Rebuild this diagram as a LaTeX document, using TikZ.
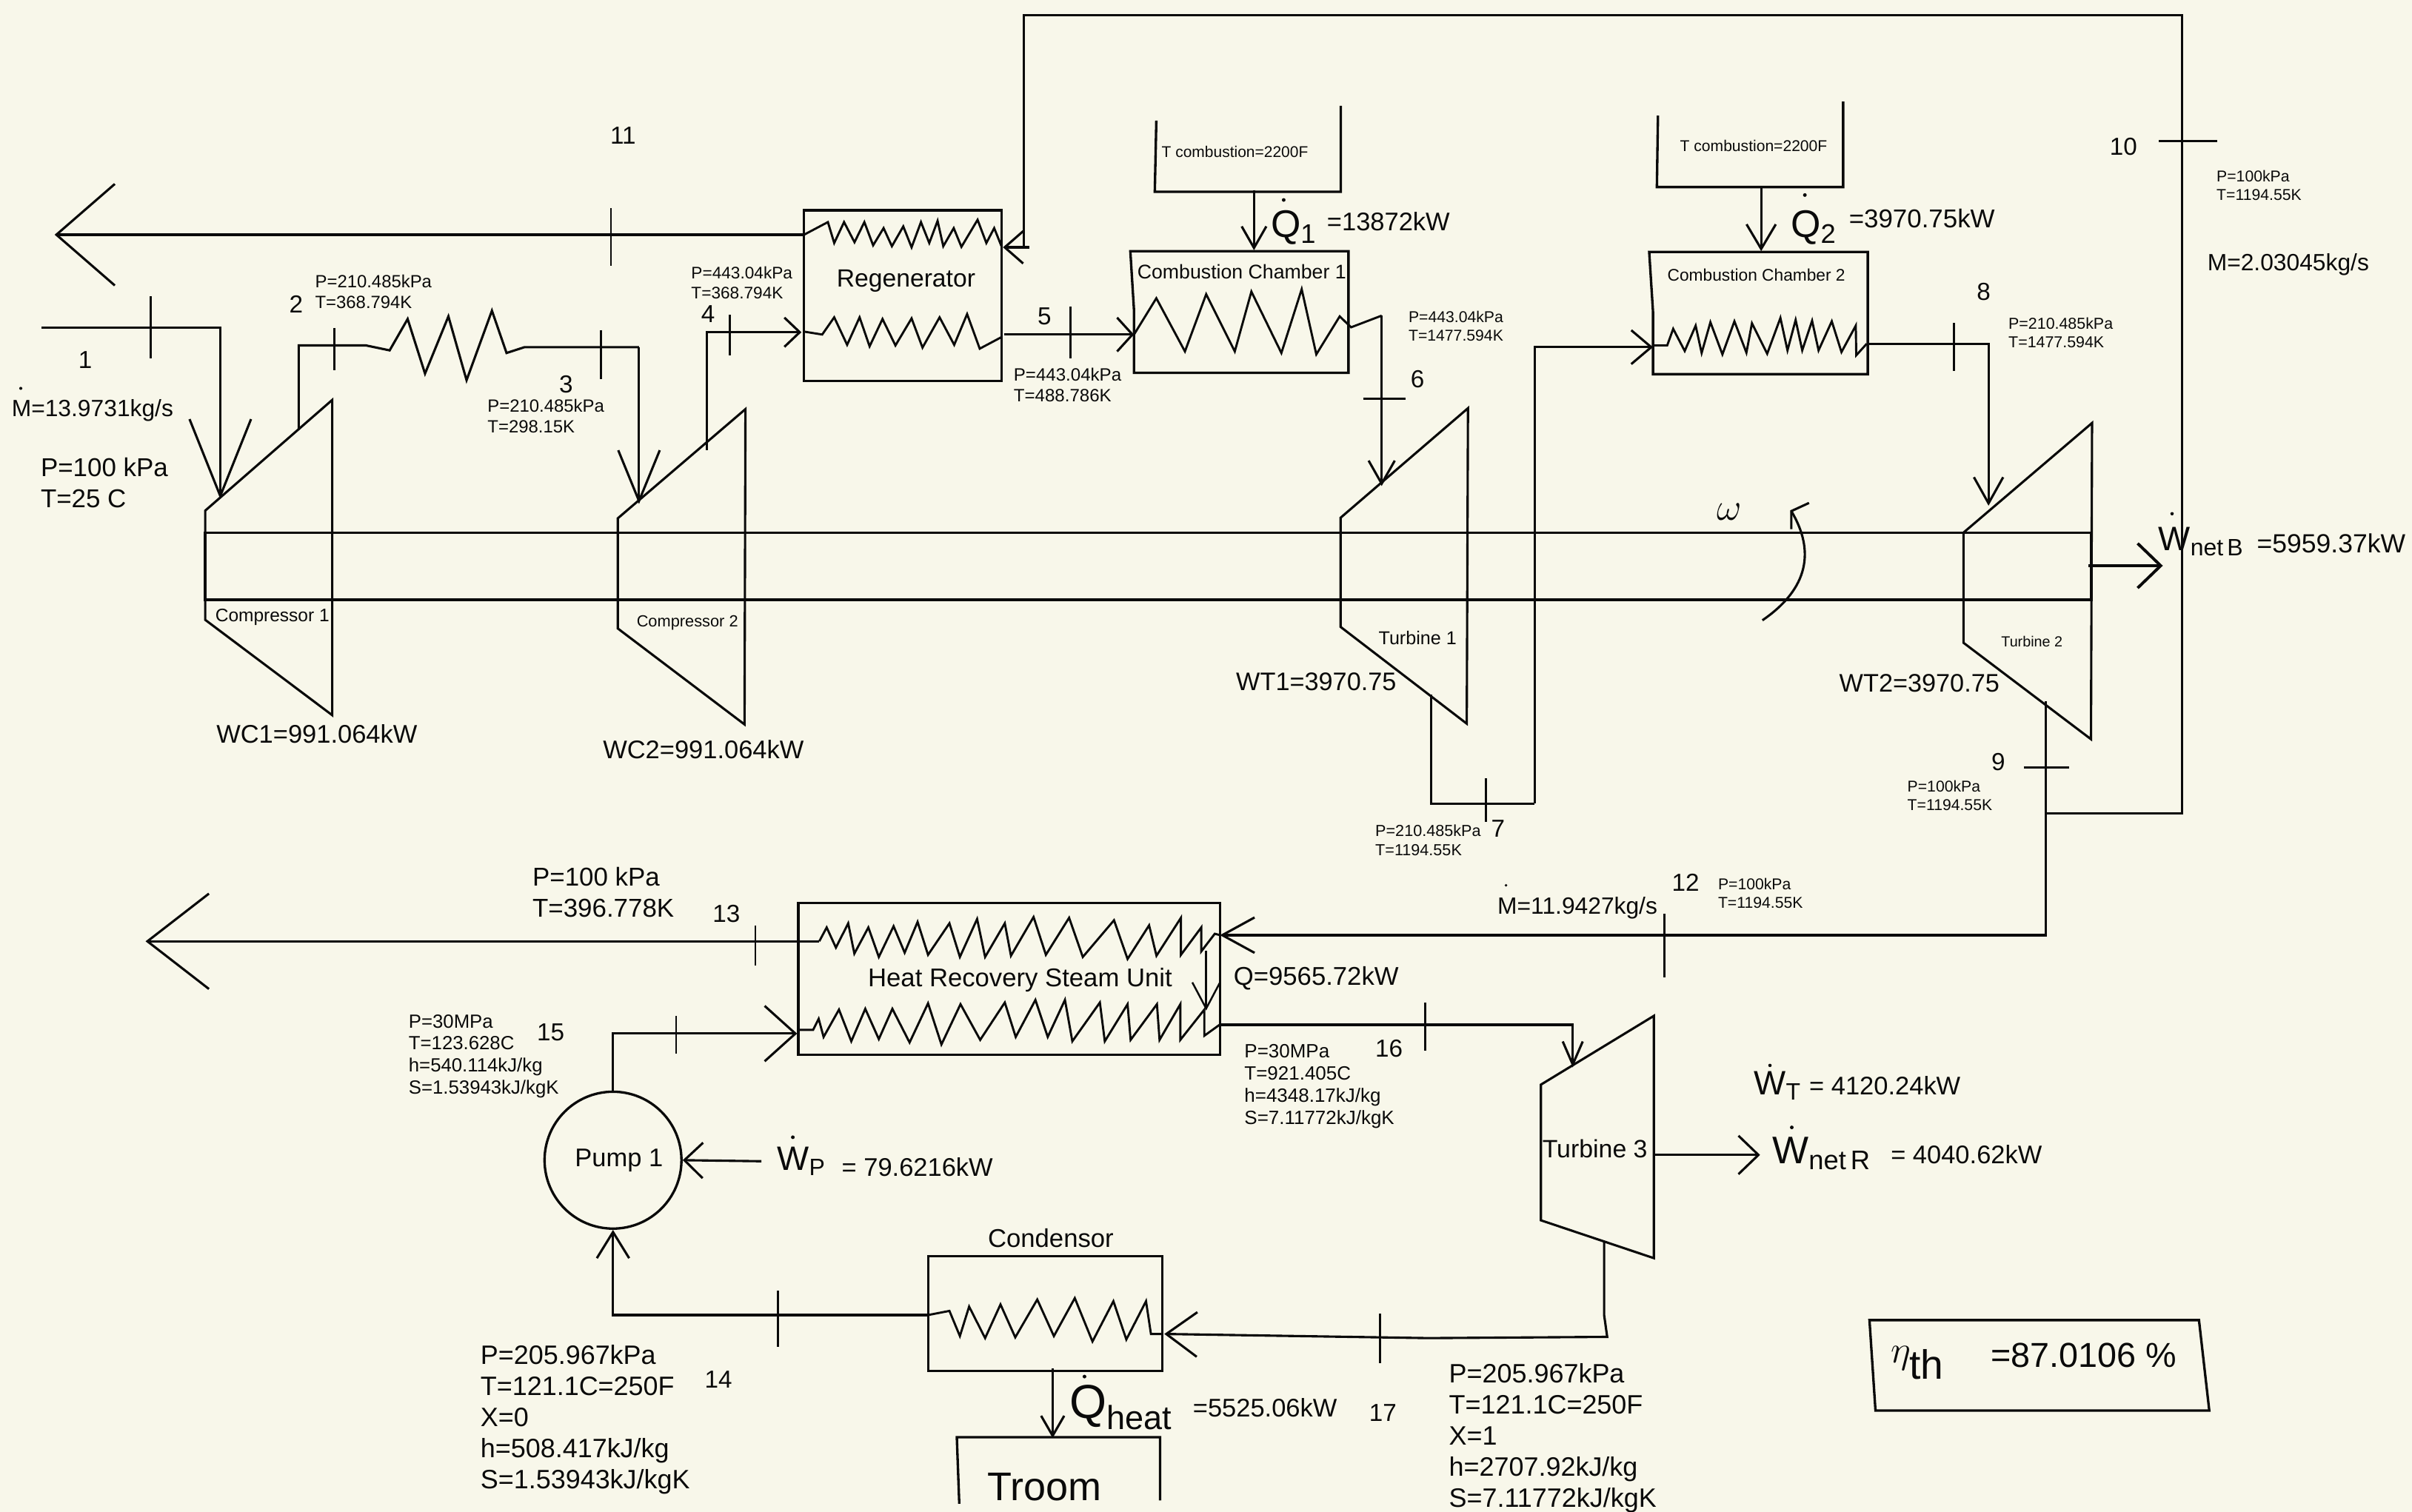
\documentclass[tikz,border=0pt]{standalone}
\usepackage{amsmath}
\usepackage{fontspec}
\setmainfont{Liberation Sans}
\setsansfont{Liberation Sans}
\usetikzlibrary{arrows.meta}
\definecolor{paper}{HTML}{F8F7EA}
\definecolor{ink}{HTML}{0A0A0A}
\tikzset{
  pipe/.style={ink, line width=1.5pt, line join=miter},
  unit/.style={ink, line width=1.6pt, line join=miter},
  coil/.style={ink, line width=1.4pt, line join=miter},
  tick/.style={ink, line width=1.3pt},
  head/.style 2 args={-{Straight Barb[length=#1, width=#2]}},
  lblbig/.style={text=ink, anchor=west, inner sep=0pt, align=left, font=\fontsize{17.1}{20.2}\selectfont},
  lblmid/.style={text=ink, anchor=west, inner sep=0pt, align=left, font=\fontsize{15.3}{18}\selectfont},
  lblfour/.style={text=ink, anchor=west, inner sep=0pt, align=left, font=\fontsize{12.4}{14.4}\selectfont},
  lblsmall/.style={text=ink, anchor=west, inner sep=0pt, align=left, font=\fontsize{11.5}{13.6}\selectfont},
  lbltiny/.style={text=ink, anchor=west, inner sep=0pt, align=left, font=\fontsize{10.2}{12}\selectfont},
  num/.style={text=ink, inner sep=0pt, font=\fontsize{16}{18}\selectfont},
  hand/.style={text=ink, inner sep=0pt, font=\fontsize{25}{28}\selectfont},
}

\begin{document}
\begin{tikzpicture}[x=1pt, y=-1pt]

% Background
\fill[paper] (0,0) rectangle (1568,983.06);
\useasboundingbox (0,0) rectangle (1568,983.06);

% ============================================================
% Shaft and compressors
% ============================================================
\draw[unit] (133.4,346.3) rectangle (1359.5,390);
\draw[pipe] (133.4,332) -- (216,260) -- (216,465) -- (133.4,403) -- cycle;
\draw[pipe] (401.6,337) -- (484.6,266) -- (484,471) -- (401.6,408.6) -- cycle;
\node[lblsmall, font=\fontsize{11.8}{14}\selectfont] (compA) at (139.8,401.2) {Compressor 1};
\node[lbltiny, font=\fontsize{10.5}{12}\selectfont] (compB) at (413.7,404.8) {Compressor 2};
\node[lblbig, font=\fontsize{16.6}{18}\selectfont] (wcA) at (140.5,477.4) {WC1=991.064kW};
\node[lblbig, font=\fontsize{16.6}{18}\selectfont] (wcB) at (391.8,487.5) {WC2=991.064kW};

% Inlet, state 1
\coordinate (sAin) at (27,213);
\coordinate (sAend) at (143.2,324.5);
\draw[pipe, head={50pt}{40pt}] (sAin) -| (sAend);
\draw[tick] (98,192.8) -- (98,233.2);
\node[num] (nA) at (55.4,234) {1};
\fill[ink] (13.5,252.5) circle (1pt);
\node[lblmid] (flowA) at (7.4,267) {M=13.9731kg/s};
\node[lblbig, font=\fontsize{16.8}{20}\selectfont] (inletA) at (26.3,314) {P=100 kPa\\T=25 C};

% Intercooler, states 2 and 3
\coordinate (sBout) at (194.2,279.4);
\coordinate (sCend) at (415.4,327.7);
\draw[pipe, line join=miter] (sBout) |- (238,224.6) -- (253.3,227.8) -- (265,207.4) -- (276.3,242.9)
  -- (291.5,205.7) -- (303.3,247.2) -- (319.8,202) -- (329.3,229.5) -- (341,225.7) -- (415.4,225.7);
\draw[pipe, head={33pt}{27pt}] (415.4,225.7) -- (sCend);
\draw[tick] (217.2,213.2) -- (217.2,240.7);
\draw[tick] (390.7,214.5) -- (390.7,246.5);
\node[num] (nB) at (192.5,197.7) {2};
\node[num] (nC) at (368,250) {3};
\node[lblsmall] (lblB) at (204.7,189.5) {P=210.485kPa\\T=368.794K};
\node[lblsmall] (lblC) at (316.8,270.5) {P=210.485kPa\\T=298.15K};

% Regenerator
\node[unit, draw, inner sep=0pt, minimum width=128.3pt, minimum height=111.1pt] (regen) at (586.85,192.25) {};
\node[lblbig, font=\fontsize{16.2}{18}\selectfont, anchor=center] (regenlbl) at (589,182.6) {Regenerator};
\draw[coil] plot coordinates {(522.7,152.6) (538.2,144.4) (542.3,158) (548.7,144.4) (555.5,157.5) (561.9,144.4)
  (567.6,159.5) (574.4,148.3) (579.8,160.1) (587.2,147.2) (592.6,160.8) (598.7,144.4) (604.1,158) (609.5,143.6)
  (613.2,160.1) (620,148.3) (625,160.5) (635.5,142.9) (641.2,158) (646.3,148.3) (651,160)};
\draw[coil] plot coordinates {(522.7,215.6) (534.5,217.5) (542.3,206.3) (550.7,224.2) (558.8,206.3) (565.3,225.2)
  (573.7,207.4) (582.1,224.6) (592.6,207) (599.7,226) (610.8,206.3) (620.3,224.2) (628.7,204.2) (636.9,226.7) (651,219.2)};

% State 4 into the regenerator
\coordinate (sDout) at (459.6,292.7);
\coordinate (sDend) at (521,216);
\draw[pipe, head={10pt}{19pt}] (sDout) |- (sDend);
\draw[tick] (474.5,204.6) -- (474.5,231);
\node[num] (nD) at (460.3,204) {4};
\node[lblsmall, font=\fontsize{10.9}{13.3}\selectfont] (lblD) at (449.2,183.8) {P=443.04kPa\\T=368.794K};

% Exhaust, state 11
\coordinate (sKout) at (522.8,152.6);
\coordinate (sKend) at (35.5,152.6);
\draw[pipe, head={38pt}{66pt}] (sKout) -- (sKend);
\draw[tick] (397.2,135.4) -- (397.2,172.6);
\node[num] (nK) at (405,88) {11};

% State 5 into chamber 1
\coordinate (sEout) at (652.7,217.5);
\coordinate (sEend) at (737.2,217.5);
\draw[pipe, head={10pt}{22pt}] (sEout) -- (sEend);
\draw[tick] (696,199.2) -- (696,232.8);
\node[num] (nE) at (679,205.7) {5};
\node[lblsmall, font=\fontsize{11.6}{13.9}\selectfont] (lblE) at (658.8,250.3) {P=443.04kPa\\T=488.786K};

% ============================================================
% Combustion chambers and turbines
% ============================================================
\draw[unit] (737.2,202) -- (734.8,163.3) -- (876.6,163.3) -- (876.6,242.4) -- (737.2,242.4) -- cycle;
\node[lblmid, font=\fontsize{12.85}{15}\selectfont] (ccAlbl) at (739.2,176.7) {Combustion Chamber 1};
\draw[coil] plot coordinates {(737.2,217.5) (751.7,193.9) (770.3,228.5) (784.1,191.3) (802.7,228.5) (813.5,189.6)
  (833,229.5) (846.2,188) (855.7,230.4) (870.9,205.7) (878.3,212.8) (898.2,205.2)};

% Heat source 1
\draw[unit] (751.7,78.4) -- (750.7,124.7) -- (871.6,124.7) -- (871.6,68.8);
\node[lbltiny, font=\fontsize{10.1}{12}\selectfont] (tcA) at (755,98.9) {T combustion=2200F};
\coordinate (qAa) at (815.2,123.6);
\coordinate (qAb) at (815.2,162.7);
\draw[pipe, head={14pt}{16pt}] (qAa) -- (qAb);
\fill[ink] (834.5,130) circle (1.2pt);
\node[hand] (qA) at (841,148) {$\mathsf{Q}_{\mathsf{1}}$};
\node[lblbig, font=\fontsize{16.6}{18}\selectfont] (qAval) at (862.5,144) {=13872kW};

% State 6 into turbine 1
\coordinate (sFa) at (898.2,205.2);
\coordinate (sFend) at (898.2,316);
\draw[pipe, head={15pt}{17pt}] (sFa) -- (sFend);
\draw[tick, line width=1.6pt] (886.1,259.4) -- (913.8,259.4);
\node[num] (nF) at (921.5,246.5) {6};
\node[lbltiny] (lblF) at (915.5,212.2) {P=443.04kPa\\T=1477.594K};

\draw[pipe] (871.5,336.6) -- (954.3,265.4) -- (953.5,470.5) -- (871.5,407.6) -- cycle;
\node[lblsmall, font=\fontsize{12.1}{14}\selectfont] (turbA) at (896,414.7) {Turbine 1};
\node[lblbig, font=\fontsize{16.5}{18}\selectfont] (wtA) at (803.4,443) {WT1=3970.75};

% State 7 reheat line
\coordinate (sGout) at (930.5,451.6);
\coordinate (sGend) at (1074.6,225.7);
\draw[pipe] (sGout) |- (997.7,522.5);
\draw[pipe, head={13pt}{22pt}] (997.7,522.5) |- (sGend);
\draw[tick] (966.1,506) -- (966.1,534.4);
\node[num] (nG) at (973.8,538.7) {7};
\node[lbltiny, font=\fontsize{10.4}{12.4}\selectfont] (lblG) at (893.9,546.4) {P=210.485kPa\\T=1194.55K};

% Chamber 2
\draw[unit] (1074.6,203) -- (1072.1,163.8) -- (1214.2,163.8) -- (1214.2,243.3) -- (1074.6,243.3) -- cycle;
\node[lbltiny, font=\fontsize{10.94}{13}\selectfont] (ccBlbl) at (1083.8,178.8) {Combustion Chamber 2};
\draw[coil] plot coordinates {(1074.6,224.6) (1083.8,224.6) (1087.7,213.8) (1095.2,228.2) (1102.3,211.7) (1106.2,229.5)
  (1111.9,209.5) (1119.7,230.4) (1127.5,208.9) (1135.3,229.3) (1138.9,210.2) (1148.8,230) (1157.4,206.7) (1162,227.8)
  (1167.3,208) (1171.6,227.8) (1178,208.5) (1182.2,227.8) (1190.8,208.9) (1197.1,228.9) (1206.4,211.7) (1206.7,231) (1213.5,223.5)};

% Heat source 2
\draw[unit] (1077.8,75.2) -- (1077.1,121.6) -- (1198.2,121.6) -- (1198.2,66);
\node[lbltiny, font=\fontsize{10.15}{12}\selectfont] (tcB) at (1092,94.6) {T combustion=2200F};
\coordinate (qBa) at (1144.9,121.6);
\coordinate (qBb) at (1144.9,163.3);
\draw[pipe, head={16pt}{19pt}] (qBa) -- (qBb);
\fill[ink] (1173.3,126.8) circle (1.2pt);
\node[hand] (qB) at (1179,148) {$\mathsf{Q}_{\mathsf{2}}$};
\node[lblbig, font=\fontsize{16.8}{18}\selectfont] (qBval) at (1201.8,141.8) {=3970.75kW};

% State 8 into turbine 2
\coordinate (sHout) at (1214.2,223.7);
\coordinate (sHend) at (1292.7,328.8);
\draw[pipe, head={17pt}{19pt}] (sHout) -| (sHend);
\draw[tick] (1270.3,210) -- (1270.3,241.1);
\node[num] (nH) at (1289.5,189.6) {8};
\node[lbltiny, font=\fontsize{10.3}{12}\selectfont] (lblH) at (1305.5,216.5) {P=210.485kPa\\T=1477.594K};

\draw[pipe] (1276.4,346.3) -- (1360,275) -- (1359.3,480.6) -- (1276.4,417.9) -- cycle;
\node[lbltiny, font=\fontsize{9.5}{11}\selectfont] (turbB) at (1300.8,417.2) {Turbine 2};
\node[lblbig, font=\fontsize{16.5}{18}\selectfont] (wtB) at (1195.5,444) {WT2=3970.75};

% Shaft rotation and net work
\node[hand, font=\fontsize{27}{28}\selectfont] (omega) at (1124,333) {$\omega$};
\coordinate (rotA) at (1145.7,403.3);
\coordinate (rotB) at (1164.5,332.3);
\draw[pipe] (rotA) .. controls (1168,388) and (1184,365) .. (rotB);
\draw[pipe] (1164.5,344) -- (rotB) -- (1176,327);
\coordinate (shaftOut) at (1357.8,367.8);
\coordinate (netBtip) at (1406,367.8);
\draw[pipe, line width=1.9pt, head={15pt}{29pt}] (shaftOut) -- (netBtip);
\fill[ink] (1412,334) circle (1.1pt);
\node[hand, font=\fontsize{22}{26}\selectfont, anchor=west] (netB) at (1403,352) {$\mathsf{W}_{\mathsf{net\,B}}$};
\node[lblbig] (netBval) at (1467,353.2) {=5959.37kW};

% ============================================================
% Split after turbine 2: states 9, 10, 12
% ============================================================
\coordinate (sIout) at (1329.8,456);
\coordinate (sIsplit) at (1329.8,529);
\coordinate (sLend) at (793,608);
\coordinate (sJa) at (1418.5,529);
\coordinate (sJb) at (1418.5,10);
\coordinate (sJc) at (665.6,10);
\coordinate (sJend) at (652,160.8);
\draw[pipe] (sIout) -- (sIsplit);
\draw[pipe, head={21pt}{23pt}] (sIsplit) |- (sLend);
\draw[pipe] (sIsplit) -- (sJa) -- (sJb) -- (sJc) -- (665.6,160.8);
\draw[pipe, head={12pt}{21pt}] (669,160.8) -- (sJend);
\draw[tick, line width=1.7pt] (1315.6,499) -- (1345,499);
\draw[tick, line width=1.7pt] (1403.5,91.6) -- (1441.5,91.6);
\draw[tick, line width=1.5pt] (1082,594) -- (1082,635.4);
\node[num] (nI) at (1299,495.2) {9};
\node[num] (nJ) at (1380.4,95.2) {10};
\node[num] (nL) at (1095.8,573.7) {12};
\node[lbltiny] (lblI) at (1239.8,517.2) {P=100kPa\\T=1194.55K};
\node[lbltiny] (lblJ) at (1440.8,120.4) {P=100kPa\\T=1194.55K};
\node[lbltiny] (lblL) at (1116.7,580.9) {P=100kPa\\T=1194.55K};
\node[lblmid] (flowJ) at (1434.8,172) {M=2.03045kg/s};
\fill[ink] (979,575.6) circle (0.9pt);
\node[lblmid] (flowL) at (973.3,590.2) {M=11.9427kg/s};

% ============================================================
% Steam cycle
% ============================================================
\node[unit, draw, inner sep=0pt, minimum width=274.2pt, minimum height=98.7pt] (hrsg) at (656.1,636.35) {};
\node[lblbig, font=\fontsize{16.7}{18}\selectfont] (hrsglbl) at (564.1,637) {Heat Recovery Steam Unit};
\draw[coil] plot coordinates {(532.6,612) (537.4,603) (543.4,616.1) (551.4,600.3) (555.4,620) (564.5,603) (571.3,622.2)
  (580.9,602.2) (588.1,619.4) (596.5,599.4) (603.3,620.8) (617.2,600.3) (624,622.2) (635.2,597.5) (640.4,622.2)
  (653.2,600.3) (657.2,621.4) (671.9,596.2) (679.9,620.8) (695,596.7) (703.9,622.2) (724.2,598.3) (733,623.5)
  (747,601.6) (751.8,621.4) (767.7,596.7) (767.7,620.8) (780.9,603) (780.9,618.6) (789.7,607.1) (793.2,608)};
\draw[coil] plot coordinates {(519,669.6) (528.6,669.6) (532.2,662.4) (535.4,674.2) (545.4,656.4) (553.4,677) (562.5,655.9)
  (571.3,675.6) (580.1,655.9) (591.3,677.8) (603.3,652.3) (612,679.1) (624.4,652.9) (637.2,676.1) (653.2,651.8)
  (660.3,674.2) (673.1,650.1) (681.1,674.2) (692.3,650.1) (697.1,677) (715,651.8) (718.2,677) (733,652.9) (735,676.1)
  (752.1,652.9) (753.8,676.1) (767.3,652.9) (767.3,676.1) (782.9,656.4) (782.9,673.4) (793.2,666)};
\coordinate (qHa) at (784.1,618);
\coordinate (qHb) at (784.1,657);
\draw[pipe, line width=1.2pt, head={17pt}{18pt}] (qHa) -- (qHb);
\node[lblbig, font=\fontsize{16.7}{18}\selectfont] (qHval) at (801.8,635.9) {Q=9565.72kW};

% Exhaust, state 13
\coordinate (sMout) at (532.6,612);
\coordinate (sMend) at (94.6,612);
\draw[pipe, head={40pt}{62pt}] (sMout) -- (sMend);
\draw[tick] (491,601.6) -- (491,627.7);
\node[num] (nM) at (472.2,594.2) {13};
\node[lblbig, font=\fontsize{16.8}{20.2}\selectfont] (lblM) at (346,580) {P=100 kPa\\T=396.778K};

% State 16 into turbine 3
\coordinate (sPout) at (793.7,666.3);
\coordinate (sPend) at (1022.4,694);
\draw[pipe, head={15pt}{13pt}] (sPout) -| (sPend);
\draw[tick, line width=1.6pt] (926.6,651.8) -- (926.6,683);
\node[num] (nP) at (903,681.6) {16};
\node[lblfour, font=\fontsize{12.5}{14.4}\selectfont] (lblP) at (808.8,706.3) {P=30MPa\\T=921.405C\\h=4348.17kJ/kg\\S=7.11772kJ/kgK};

\draw[pipe] (1001.7,705.2) -- (1075.1,660.5) -- (1075.1,818) -- (1001.7,793.4) -- cycle;
\node[lblbig, font=\fontsize{16.3}{18}\selectfont] (turbC) at (1002.5,746.8) {Turbine 3};
\coordinate (turbCout) at (1075.1,750.9);
\coordinate (netRtip) at (1144.2,750.9);
\draw[pipe, head={13pt}{25pt}] (turbCout) -- (netRtip);
\fill[ink] (1150.6,692.7) circle (1.1pt);
\node[hand, font=\fontsize{22}{26}\selectfont, anchor=west] (wT) at (1140,706) {$\mathsf{W}_{\mathsf{T}}$};
\node[lblbig, font=\fontsize{16.6}{18}\selectfont] (wTval) at (1176,706) {= 4120.24kW};
\fill[ink] (1164.8,733) circle (1.2pt);
\node[hand, font=\fontsize{25}{26}\selectfont, anchor=west] (netR) at (1152,750) {$\mathsf{W}_{\mathsf{net\,R}}$};
\node[lblbig, font=\fontsize{16.6}{18}\selectfont] (netRval) at (1229,750.8) {= 4040.62kW};

% State 17 into condensor
\coordinate (sQout) at (1042.8,807);
\coordinate (sQend) at (756.9,867.3);
\draw[pipe, head={20pt}{29pt}] (sQout) -- (1042.8,855) -- (1044.8,869.2) -- (928.6,870) -- (sQend);
\draw[tick] (897,854.2) -- (897,886.5);
\node[num] (nQ) at (899,918.5) {17};
\node[lblbig, font=\fontsize{17.3}{20.2}\selectfont] (lblQ) at (941.8,935.2) {P=205.967kPa\\T=121.1C=250F\\X=1\\h=2707.92kJ/kg\\S=7.11772kJ/kgK};

% Condensor and room
\node[unit, draw, inner sep=0pt, minimum width=152.4pt, minimum height=74.8pt] (cond) at (679.5,854) {};
\node[lblbig, font=\fontsize{16.7}{18}\selectfont, anchor=center] (condlbl) at (683.1,805.2) {Condensor};
\draw[coil] plot coordinates {(603.3,855) (617.2,852.3) (624,868.7) (630,849.5) (640.4,870) (650.4,848.1) (660,869.5)
  (674.3,844.9) (685.1,868.7) (698.7,844) (710.2,872.2) (723.8,846) (732.2,870.9) (745,846) (748.2,867.3) (755.7,867.3)};
\coordinate (qRa) at (684.3,889.8);
\coordinate (qRb) at (684.3,935);
\draw[pipe, head={13pt}{15pt}] (qRa) -- (qRb);
\fill[ink] (705,895) circle (1.2pt);
\node[hand, font=\fontsize{31}{32}\selectfont, anchor=west] (qHeat) at (695,915) {$\mathsf{Q}_{\mathsf{heat}}$};
\node[lblbig, font=\fontsize{16.6}{18}\selectfont] (qHeatval) at (775.3,915.2) {=5525.06kW};
\draw[unit] (623.6,977.7) -- (622,934.4) -- (754.1,934.4) -- (754.1,975.5);
\node[hand, font=\fontsize{26}{28}\selectfont] (room) at (679,967) {Troom};

% States 14 and 15, pump
\node[unit, draw, circle, inner sep=0pt, minimum size=89pt] (pump) at (398.5,754.3) {};
\node[lblbig, font=\fontsize{16.6}{18}\selectfont, anchor=center] (pumplbl) at (402.4,754.4) {Pump 1};
\coordinate (sNout) at (603.6,855);
\draw[pipe, head={17pt}{21pt}] (sNout) -| (pump.south);
\coordinate (sOend) at (518.2,672);
\draw[pipe, head={20pt}{36pt}] (pump.north) |- (sOend);
\draw[tick] (505.8,839.1) -- (505.8,875.5);
\draw[tick] (439.5,660.5) -- (439.5,685);
\node[num] (nN) at (467,897) {14};
\node[num] (nO) at (358,671) {15};
\node[lblfour] (lblO) at (265.5,686.8) {P=30MPa\\T=123.628C\\h=540.114kJ/kg\\S=1.53943kJ/kgK};
\node[lblbig, font=\fontsize{17.3}{20.2}\selectfont] (lblN) at (312.2,922.9) {P=205.967kPa\\T=121.1C=250F\\X=0\\h=508.417kJ/kg\\S=1.53943kJ/kgK};
\coordinate (wPa) at (495,755);
\draw[pipe, head={12pt}{23pt}] (wPa) -- (pump.east);
\fill[ink] (515.4,739.4) circle (1.2pt);
\node[hand, font=\fontsize{22}{26}\selectfont] (wP) at (521,755) {$\mathsf{W}_{\mathsf{P}}$};
\node[lblbig, font=\fontsize{16.6}{18}\selectfont] (wPval) at (547,758.6) {= 79.6216kW};

% Thermal efficiency box
\draw[unit] (1215.3,858.3) -- (1429.5,858.3) -- (1436.2,917.1) -- (1219.2,917.1) -- cycle;
\node[hand, font=\fontsize{38}{40}\selectfont, anchor=west] (eta) at (1229,886) {$\eta_{\mathsf{th}}$};
\node[lblbig, font=\fontsize{22.5}{26}\selectfont] (etaval) at (1294,881) {=87.0106 \%};

\end{tikzpicture}
\end{document}
